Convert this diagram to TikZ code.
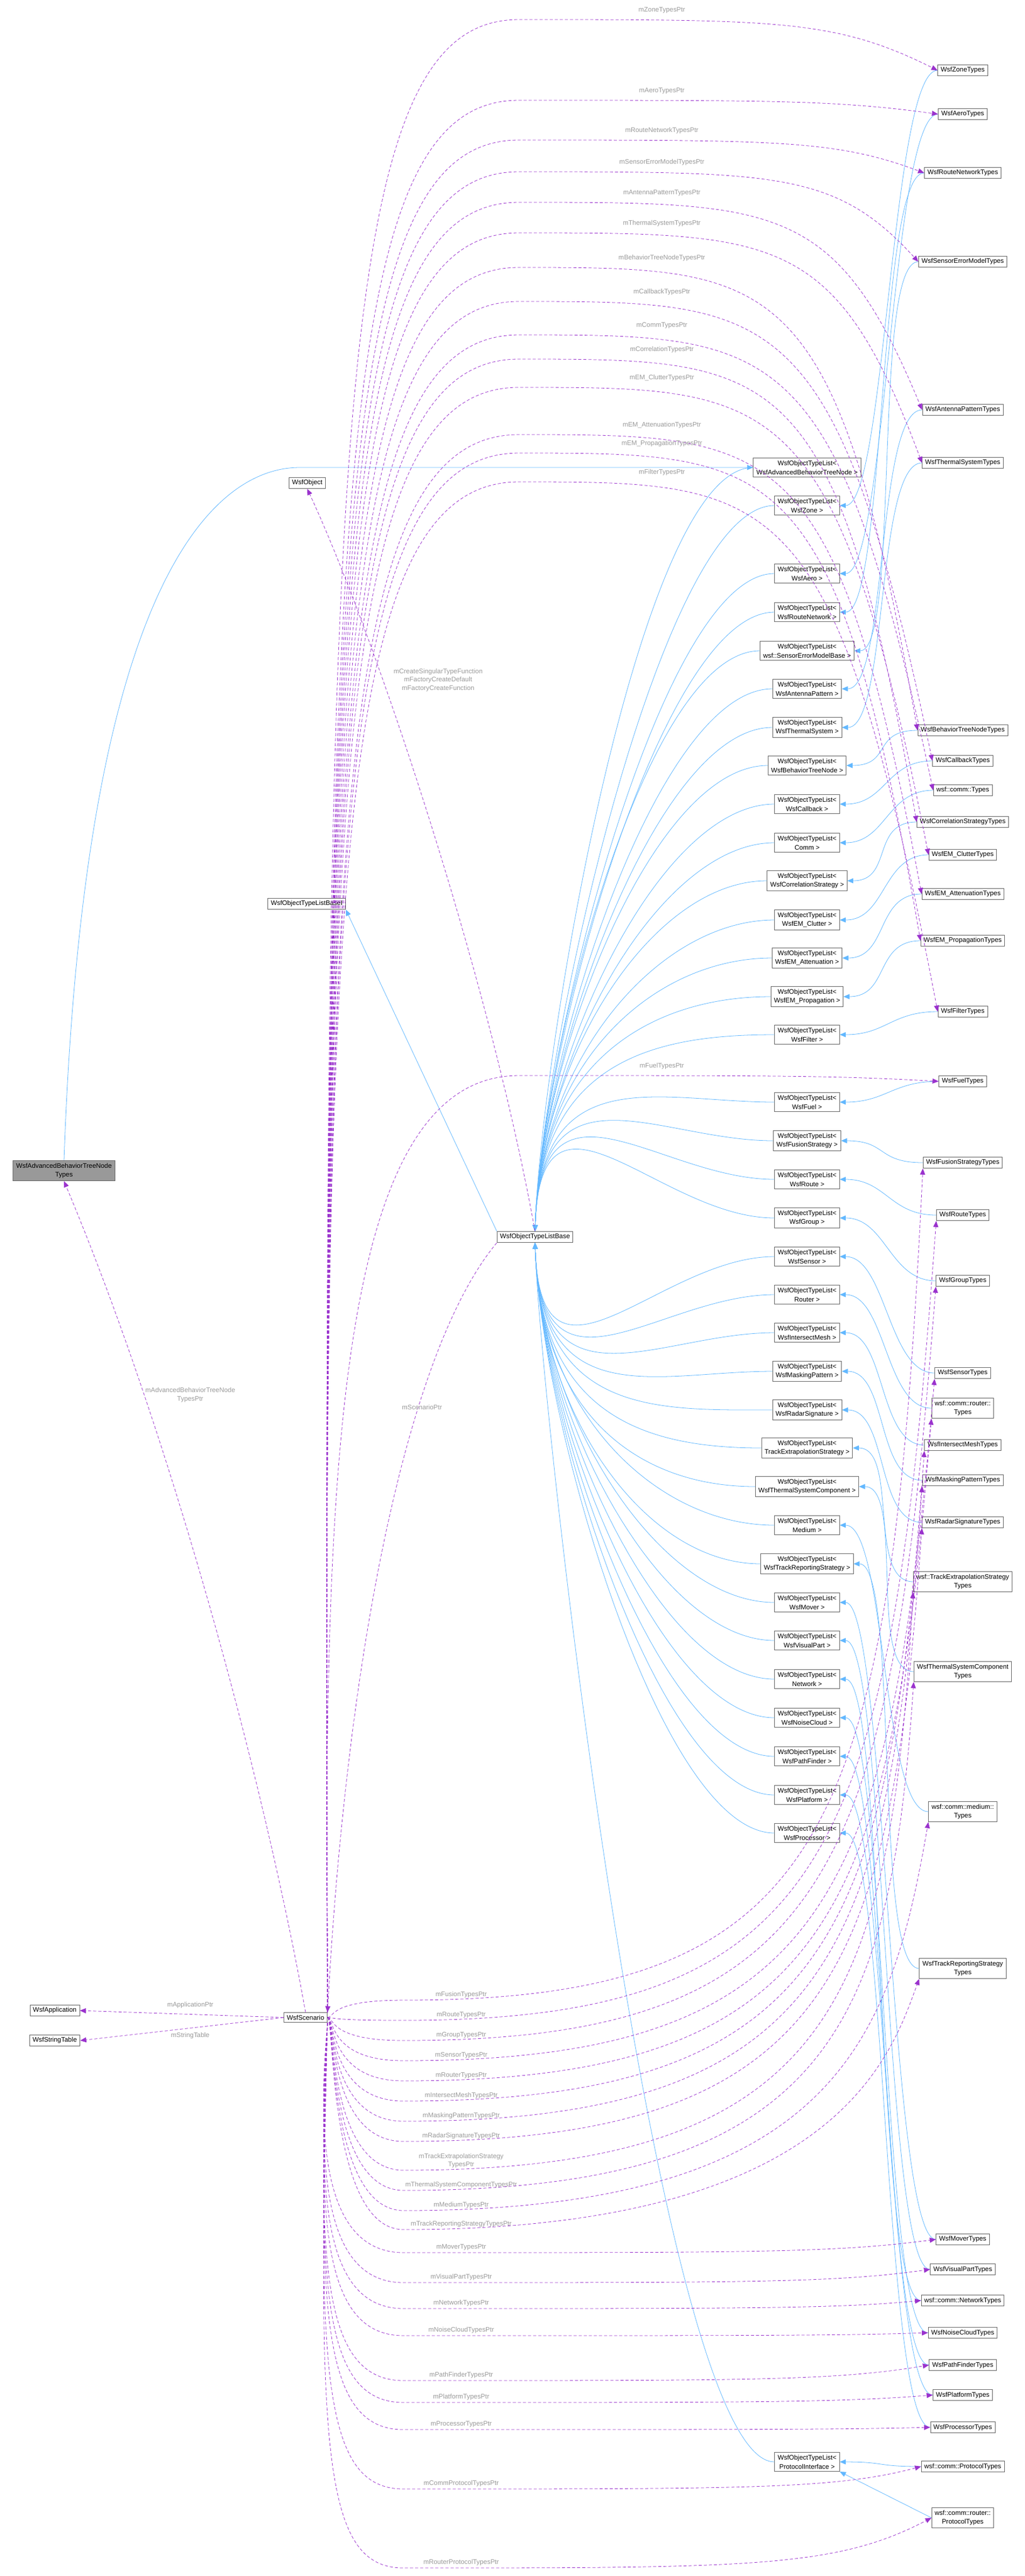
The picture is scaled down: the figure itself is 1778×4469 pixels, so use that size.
\documentclass[tikz,border=0pt]{standalone}
\usepackage{fontspec}
\setmainfont{Liberation Sans}
\usetikzlibrary{arrows.meta}
\definecolor{inhblue}{HTML}{63B8FF}
\definecolor{ptrpurple}{HTML}{9A32CD}
\definecolor{lblgray}{HTML}{9A9A9A}
\definecolor{boxgray}{HTML}{666666}
\tikzset{
  cls/.style={draw=boxgray,fill=white,align=center,font=\fontsize{6.5}{9}\selectfont,inner xsep=3pt,inner ysep=2.5pt,line width=0.5pt},
  clsgray/.style={cls,fill=black!40},
  inh/.style={draw=inhblue,line width=0.45pt,-{Triangle[length=6pt,width=5pt]}},
  ptr/.style={draw=ptrpurple,line width=0.45pt,dash pattern=on 3pt off 2pt,-{Triangle[length=6pt,width=5pt]}},
  lbl/.style={text=lblgray,align=center,font=\fontsize{6.5}{8}\selectfont,inner sep=1pt}
}
\begin{document}
\begin{tikzpicture}[x=0.2mm,y=-0.2mm]
\useasboundingbox (0,0) rectangle (1778,4469);
% left column
\node[clsgray] (advtypes) at (111,2031) {WsfAdvancedBehaviorTreeNode\\Types};
\node[cls] (object) at (533,838) {WsfObject};
\node[cls] (basei) at (532,1568) {WsfObjectTypeListBaseI};
\node[cls] (base) at (928,2146) {WsfObjectTypeListBase};
\node[cls] (app) at (95,3488) {WsfApplication};
\node[cls] (strtab) at (95,3540) {WsfStringTable};
\node[cls] (scen) at (530,3500) {WsfScenario};
% middle column
\foreach \k/\t/\y in {AdvBT/WsfAdvancedBehaviorTreeNode/811,Zone/WsfZone/877,Aero/WsfAero/995,RouteNet/WsfRouteNetwork/1062,
  SensErr/wsf::SensorErrorModelBase/1129,Antenna/WsfAntennaPattern/1195,Thermal/WsfThermalSystem/1262,BTNode/WsfBehaviorTreeNode/1328,
  Callback/WsfCallback/1395,Comm/Comm/1462,Correl/WsfCorrelationStrategy/1528,Clutter/{WsfEM\_Clutter}/1596,
  Atten/{WsfEM\_Attenuation}/1662,Propag/{WsfEM\_Propagation}/1729,Filter/WsfFilter/1795,Fuel/WsfFuel/1912,
  Fusion/WsfFusionStrategy/1979,Route/WsfRoute/2046,Group/WsfGroup/2113,Sensor/WsfSensor/2180,Router/Router/2246,
  Mesh/WsfIntersectMesh/2312,Masking/WsfMaskingPattern/2379,Radar/WsfRadarSignature/2446,TrackExt/TrackExtrapolationStrategy/2512,
  ThermComp/WsfThermalSystemComponent/2579,Medium/Medium/2646,TrackRep/WsfTrackReportingStrategy/2713,Mover/WsfMover/2780,
  Visual/WsfVisualPart/2846,Network/Network/2913,Noise/WsfNoiseCloud/2980,Path/WsfPathFinder/3047,Platform/WsfPlatform/3114,
  Processor/WsfProcessor/3180,Protocol/ProtocolInterface/4271}{
  \node[cls] (l\k) at (1400,\y) {WsfObjectTypeList<\\ \t\ >};
  \ifdim\y pt<2146pt
    \draw[inh] (l\k.west) .. controls +(-200,0) and +(10,-300) .. (base.north);
  \else
    \draw[inh] (l\k.west) .. controls +(-200,0) and +(10,300) .. (base.south);
  \fi
}
% right column
\foreach \k/\t/\y in {Zone/WsfZoneTypes/122,Aero/WsfAeroTypes/198,RouteNet/WsfRouteNetworkTypes/300,SensErr/WsfSensorErrorModelTypes/454,
  Antenna/WsfAntennaPatternTypes/711,Thermal/WsfThermalSystemTypes/803,BTNode/WsfBehaviorTreeNodeTypes/1267,Callback/WsfCallbackTypes/1320,
  Comm/wsf::comm::Types/1371,Correl/WsfCorrelationStrategyTypes/1426,Clutter/{WsfEM\_ClutterTypes}/1483,Atten/{WsfEM\_AttenuationTypes}/1551,
  Propag/{WsfEM\_PropagationTypes}/1632,Filter/WsfFilterTypes/1755,Fuel/WsfFuelTypes/1876,Fusion/WsfFusionStrategyTypes/2017,
  Route/WsfRouteTypes/2108,Group/WsfGroupTypes/2222,Sensor/WsfSensorTypes/2382,Router/{wsf::comm::router::\\Types}/2443,
  Mesh/WsfIntersectMeshTypes/2507,Masking/WsfMaskingPatternTypes/2568,Radar/WsfRadarSignatureTypes/2641,
  TrackExt/{wsf::TrackExtrapolationStrategy\\Types}/2744,ThermComp/{WsfThermalSystemComponent\\Types}/2900,
  Medium/{wsf::comm::medium::\\Types}/3143,TrackRep/{WsfTrackReportingStrategy\\Types}/3415,Mover/WsfMoverTypes/3885,
  Visual/WsfVisualPartTypes/3937,Network/wsf::comm::NetworkTypes/3991,Noise/WsfNoiseCloudTypes/4047,Path/WsfPathFinderTypes/4103,
  Platform/WsfPlatformTypes/4155,Processor/WsfProcessorTypes/4211,Protocol/wsf::comm::ProtocolTypes/4279}{
  \node[cls] (r\k) at (1670,\y) {\t};
  \draw[inh] (r\k.west) .. controls +(-80,0) and +(80,0) .. (l\k.east);
}
\node[cls] (rRouterProt) at (1670,4368) {wsf::comm::router::\\ProtocolTypes};
\draw[inh] (rRouterProt.west) -- (lProtocol.south east);
% inheritance on the left
\draw[inh] (advtypes.north) .. controls (150,900) and (420,811) .. (520,811) -- (lAdvBT.west);
\draw[inh] (base.north west) -- (basei.south east);
% pointers going up
\foreach \k/\m/\e in {Zone/mZoneTypesPtr/34,Aero/mAeroTypesPtr/174,RouteNet/mRouteNetworkTypesPtr/243,
  SensErr/mSensorErrorModelTypesPtr/298,Antenna/mAntennaPatternTypesPtr/351,Thermal/mThermalSystemTypesPtr/404,
  BTNode/mBehaviorTreeNodeTypesPtr/464,Callback/mCallbackTypesPtr/523,Comm/mCommTypesPtr/581,Correl/mCorrelationTypesPtr/623,
  Clutter/{mEM\_ClutterTypesPtr}/672,Atten/{mEM\_AttenuationTypesPtr}/754,Propag/{mEM\_PropagationTypesPtr}/786,
  Filter/mFilterTypesPtr/836,Fuel/mFuelTypesPtr/1866}{
  \node[lbl] (n\k) at (1148,\e-16) {\m};
  \draw[ptr] (scen.north east) .. controls (560,\e+700) and (580,\e) .. (900,\e) .. controls (1350,\e) and (1450,\e) .. (r\k.west);
}
% pointers going down
\foreach \k/\m/\e in {Fusion/mFusionTypesPtr/3470,Route/mRouteTypesPtr/3505,Group/mGroupTypesPtr/3540,Sensor/mSensorTypesPtr/3575,
  Router/mRouterTypesPtr/3610,Mesh/mIntersectMeshTypesPtr/3645,Masking/mMaskingPatternTypesPtr/3680,Radar/mRadarSignatureTypesPtr/3715,
  TrackExt/{mTrackExtrapolationStrategy\\TypesPtr}/3765,ThermComp/mThermalSystemComponentTypesPtr/3800,Medium/mMediumTypesPtr/3835,
  TrackRep/mTrackReportingStrategyTypesPtr/3868}{
  \node[lbl,anchor=south] (n\k) at (800,\e-2) {\m};
  \draw[ptr] (scen.east) .. controls (580,3500) and (570,\e) .. (700,\e) .. controls (1450,\e) and (1545,\e-300) .. (r\k.south west);
}
\foreach \k/\m/\e in {Mover/mMoverTypesPtr/3908,Visual/mVisualPartTypesPtr/3960,Network/mNetworkTypesPtr/4005,
  Noise/mNoiseCloudTypesPtr/4052,Path/mPathFinderTypesPtr/4130,Platform/mPlatformTypesPtr/4168,Processor/mProcessorTypesPtr/4215,
  Protocol/mCommProtocolTypesPtr/4318,RouterProt/mRouterProtocolTypesPtr/4455}{
  \node[lbl,anchor=south] (n\k) at (800,\e-2) {\m};
  \draw[ptr] (scen.south east) .. controls (550,\e-200) and (560,\e) .. (700,\e) .. controls (1300,\e) and (1450,\e) .. (r\k.west);
}
% other pointers
\draw[ptr] (scen.north) .. controls (460,3100) and (300,2500) .. (advtypes.south);
\node[lbl] (nAdv) at (330,2420) {mAdvancedBehaviorTreeNode\\TypesPtr};
\draw[ptr] (base.north) .. controls (850,1700) and (650,1100) .. (object.south);
\node[lbl] (nObj) at (760,1180) {mCreateSingularTypeFunction\\mFactoryCreateDefault\\mFactoryCreateFunction};
\draw[ptr] (base.south west) .. controls (700,2350) and (600,2900) .. (scen.north east);
\node[lbl] (nScen) at (732,2441) {mScenarioPtr};
\draw[ptr] (scen.west) -- (app.east);
\node[lbl,anchor=south] (nApp) at (330,3486) {mApplicationPtr};
\draw[ptr] (scen.west) -- (strtab.east);
\node[lbl,anchor=north] (nStr) at (330,3524) {mStringTable};
\end{tikzpicture}
\end{document}
